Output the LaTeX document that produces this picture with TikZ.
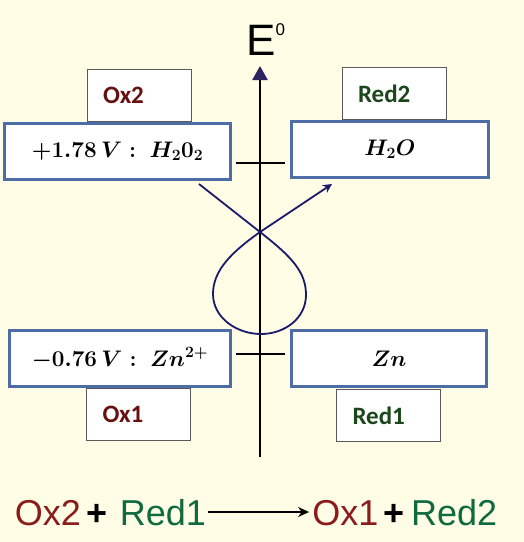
\documentclass[tikz,border=0pt]{standalone}
\usepackage{fix-cm}
\usepackage{fontspec}
\setmainfont{Liberation Sans}
\newfontfamily\calibfont{Carlito}
\usetikzlibrary{arrows.meta, positioning}
\definecolor{bgcream}{HTML}{FFFDE6}
\definecolor{boxblue}{HTML}{4E6DA6}
\definecolor{oxred}{HTML}{8A1C1C}
\definecolor{redgreen}{HTML}{0F6A40}
\definecolor{labred}{HTML}{661010}
\definecolor{labgreen}{HTML}{1B471B}
\definecolor{loopnavy}{HTML}{1B1A6B}
\definecolor{tipviolet}{HTML}{2D2360}
\tikzset{
    bigbox/.style={rectangle, draw=boxblue, line width=3pt, fill=white, minimum height=56pt, inner sep=0pt, font=\fontsize{22.5}{26}\selectfont\boldmath},
    smallbox/.style={rectangle, draw=black!65, line width=0.9pt, fill=white, minimum width=104pt, minimum height=52pt, text width=72pt, inner xsep=16pt, inner ysep=0pt, align=left, font=\calibfont\bfseries\fontsize{25}{27}\selectfont},
    eqtext/.style={inner sep=0pt, text height=26pt, text depth=0pt, font=\fontsize{36}{40}\selectfont},
    axisline/.style={line width=2.6pt, -{Triangle[length=14pt,width=15pt,color=tipviolet]}},
    tickline/.style={line width=2pt},
    loopline/.style={draw=loopnavy, line width=1.8pt, -{Stealth[length=9pt,width=9pt]}},
    eqarrow/.style={line width=1.5pt, shorten <=2pt, shorten >=3pt, -{Stealth[length=11pt,width=10pt]}}
}
\begin{document}
\begin{tikzpicture}[x=1pt, y=-1pt]
    \useasboundingbox (0,0) rectangle (524,542);
    \fill[bgcream] (0,0) rectangle (524,542);

    % energy axis
    \coordinate (axbot) at (260,457);
    \coordinate (axtop) at (260,66);
    \draw [axisline] (axbot) -- (axtop);
    \node (elabel) [anchor=base west, inner sep=0pt, font=\fontsize{44}{44}\selectfont] at (246,55) {E\raisebox{20pt}{\fontsize{17}{17}\selectfont 0}};

    \coordinate (tickhi) at (260,163);
    \coordinate (ticklo) at (260,354);
    \draw [tickline] ([xshift=-24pt]tickhi) -- ([xshift=25pt]tickhi);
    \draw [tickline] ([xshift=-24pt]ticklo) -- ([xshift=25pt]ticklo);

    % couples
    \node (pox2) [bigbox, minimum width=226pt] at (117.5,151.5) {$+1.78\,V:\ H_2 0_2$};
    \node (pred2) [bigbox, minimum width=197pt] at (390,149.5) {$H_2O$};
    \node (pox1) [bigbox, minimum width=221pt] at (120,358.5) {$-0.76\,V:\ Zn^{2+}$};
    \node (pred1) [bigbox, minimum width=195pt] at (389,358.5) {$Zn$};

    \node (ox2) [smallbox, above=0pt of pox2, xshift=21.5pt, text=labred] {Ox2};
    \node (red2) [smallbox, above=0pt of pred2, xshift=4pt, text=labgreen] {Red2};
    \node (ox1) [smallbox, below=0pt of pox1, xshift=18.5pt, text=labred] {Ox1};
    \node (red1) [smallbox, below=1pt of pred1, xshift=-0.5pt, text=labgreen] {Red1};

    % gamma loop
    \coordinate (loopstart) at (199,184);
    \coordinate (loopcross) at (260,232);
    \coordinate (loopend) at (332,184);
    \draw [loopline] (loopstart) -- (loopcross)
        .. controls (292,257) and (306,272) .. (306,295)
        .. controls (306,318) and (285,334) .. (261,334)
        .. controls (237,334) and (213,318) .. (213,294)
        .. controls (213,270) and (232,252) .. (loopcross) -- (loopend);

    % overall reaction
    \node (eqox2) [eqtext, text=oxred] at (48,512) {Ox2};
    \node (eqplusa) [eqtext, right=5pt of eqox2] {\textbf{+}};
    \node (eqred1) [eqtext, text=redgreen, right=12pt of eqplusa] {Red1};
    \node (eqox1) [eqtext, text=oxred, right=106pt of eqred1] {Ox1};
    \node (eqplusb) [eqtext, right=5pt of eqox1] {\textbf{+}};
    \node (eqred2) [eqtext, text=redgreen, right=6pt of eqplusb] {Red2};
    \draw [eqarrow] (eqred1) -- (eqox1);
\end{tikzpicture}
\end{document}
